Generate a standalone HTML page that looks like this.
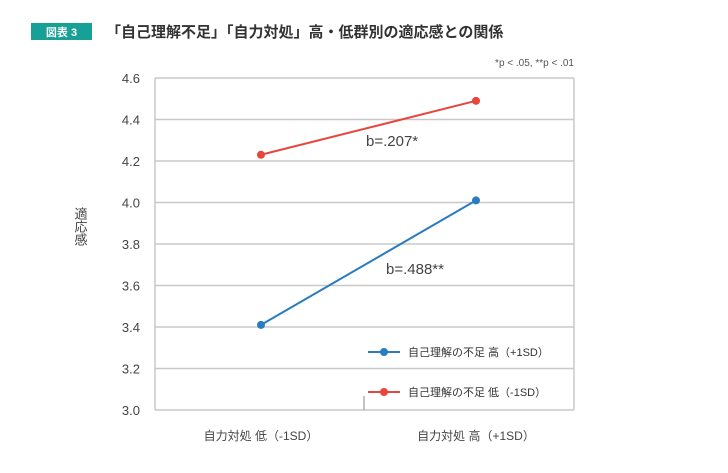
<!DOCTYPE html>
<html><head><meta charset="utf-8"><style>
body{margin:0;background:#fff;font-family:"Liberation Sans","Noto Sans CJK JP",sans-serif;}
svg text{font-family:"Liberation Sans","Noto Sans CJK JP",sans-serif;}
</style></head><body>
<svg width="728" height="468" xmlns="http://www.w3.org/2000/svg" id="chart">
<rect x="31" y="23" width="61" height="17" fill="#17a095"/>
<text x="61.5" y="36" font-size="11" fill="#fff" text-anchor="middle" font-weight="bold">図表 3</text>
<text x="106" y="37" font-size="15" fill="#333" font-weight="bold">「自己理解不足」「自力対処」高・低群別の適応感との関係</text>
<text x="574" y="66" font-size="10" fill="#555" text-anchor="end">*p &lt; .05, **p &lt; .01</text>
<g id="grid"></g>
<g id="marks"></g>
<text x="80" y="207" font-size="13" fill="#444" style="writing-mode:vertical-rl" >適応感</text>
<text x="366" y="146" font-size="15" fill="#444">b=.207*</text>
<text x="386" y="274" font-size="15" fill="#444">b=.488**</text>
<g>
<line x1="368" y1="352" x2="400" y2="352" stroke="#2a7bc0" stroke-width="2"/>
<circle cx="384" cy="352" r="4" fill="#2a7bc0"/>
<text x="408" y="356" font-size="11" fill="#333">自己理解の不足 高（+1SD）</text>
<line x1="368" y1="392" x2="400" y2="392" stroke="#e8453c" stroke-width="2"/>
<circle cx="384" cy="392" r="4" fill="#e8453c"/>
<text x="408" y="396" font-size="11" fill="#333">自己理解の不足 低（-1SD）</text>
</g>
</svg>
<script>
const categories=["自力対処 低（-1SD）","自力対処 高（+1SD）"];
const seriesHigh=[3.41,4.01];
const seriesLow=[4.23,4.49];
const yTicks=[3.0,3.2,3.4,3.6,3.8,4.0,4.2,4.4,4.6];
const NS="http://www.w3.org/2000/svg";
const L=155,R=574,T=78,B=410,yMin=3.0,yMax=4.6;
const y=v=>B-(v-yMin)/(yMax-yMin)*(B-T);
const x=i=>261+215*i;
function mk(tag,attrs,parent){const e=document.createElementNS(NS,tag);for(const k in attrs)e.setAttribute(k,attrs[k]);parent.appendChild(e);return e;}
const grid=document.getElementById('grid'),marks=document.getElementById('marks');
yTicks.forEach((t,i)=>{
 const g=mk('line',{x1:L,x2:R,y1:y(t),y2:y(t),stroke:'#c8c8c8','stroke-width':1.5},grid);
 
 
 const tx=mk('text',{x:140,y:y(t)+5,'font-size':13,fill:'#444','text-anchor':'end'},grid);
 tx.textContent=t.toFixed(1);
 
 
});
const lv=mk('line',{x1:L,x2:L,y1:T,y2:B,stroke:'#c8c8c8','stroke-width':1.5},grid);


const rv=mk('line',{x1:R,x2:R,y1:T,y2:B,stroke:'#c8c8c8','stroke-width':1.5},grid);


const ct=mk('line',{x1:364,x2:364,y1:B-14,y2:B,stroke:'#888','stroke-width':1},grid);


categories.forEach((c,i)=>{
 const tx=mk('text',{x:x(i),y:440,'font-size':12,fill:'#444','text-anchor':'middle'},grid);
 tx.textContent=c;
 
 
});
function series(vals,color,name){
 const pl=mk('polyline',{points:vals.map((v,i)=>x(i)+','+y(v)).join(' '),fill:'none',stroke:color,'stroke-width':2},marks);
 
 
 vals.forEach((v,i)=>{
  const c=mk('circle',{cx:x(i),cy:y(v),r:4,fill:color},marks);
  
  
 });
}
series(seriesLow,'#e8453c','series-low');
series(seriesHigh,'#2a7bc0','series-high');
</script>
</body></html>
